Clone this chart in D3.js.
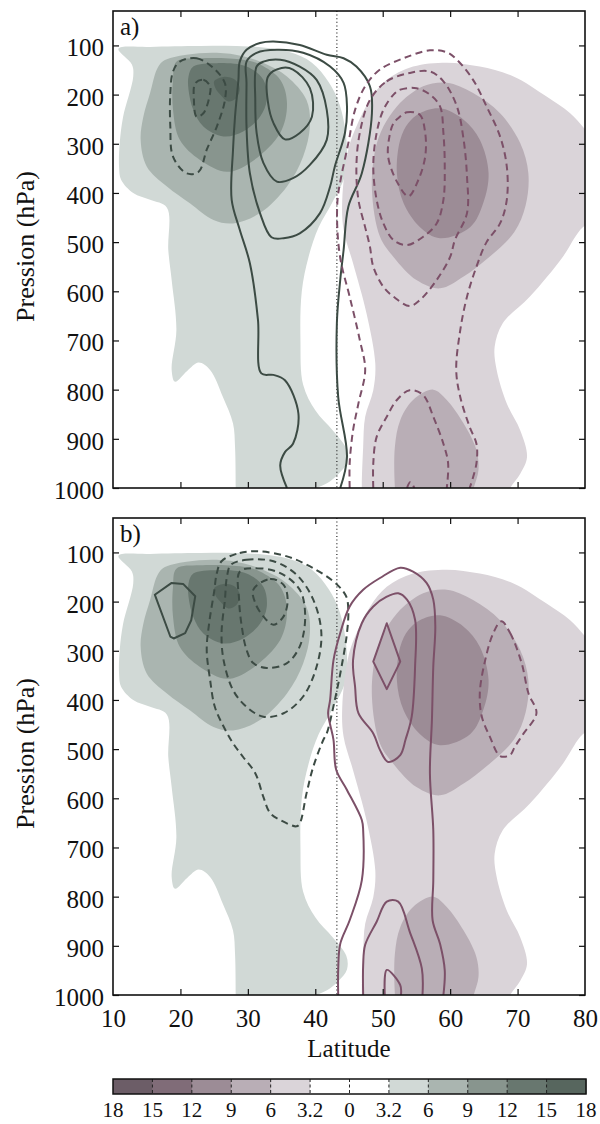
<!DOCTYPE html>
<html><head><meta charset="utf-8">
<script src="https://cdn.jsdelivr.net/npm/d3@7"></script>
<style>
body{margin:0;background:#fff}
svg{display:block}
text{font-family:"Liberation Serif","Times New Roman",serif;fill:#111}
</style>
</head><body>
<svg id="chart" width="600" height="1124"></svg>
<script>
// ---------------- DATA ----------------
const latTicks = [10, 20, 30, 40, 50, 60, 70, 80];
const presTicks = [100, 200, 300, 400, 500, 600, 700, 800, 900, 1000];
const cbLabels = ["18", "15", "12", "9", "6", "3.2", "0", "3.2", "6", "9", "12", "15", "18"];
const cbColors = ["#6c5d67", "#806c78", "#9c8c96", "#b9aeb6", "#dad4d9", "#ffffff",
                  "#ffffff", "#d1d9d6", "#aab5b0", "#88958e", "#68776f", "#57665e"];
const equatorLine = 43.2; // dotted reference latitude

// shading (same field in both panels) : [lat, pressure]
const fillG1 = [[10.8,107],[12.8,139],[13.0,163],[11.5,245],[11.0,298],[10.9,347],[11.2,373],[13,400],[15.5,414],[18,430],[18.2,516],[18.7,577],[19.4,679],[18.7,760],[19.2,784],[21,762],[22.7,745],[24.4,760],[26.3,815],[27.8,869],[28.1,917],[28.2,1000],[28.2,1030],[39.5,1030],[40.2,1002],[41.8,990],[43.4,972],[44.7,948],[44.6,920],[42.6,883],[40,842],[38.2,790],[37.8,700],[38.0,600],[39,530],[40.5,470],[42.5,420],[44.5,360],[44.6,290],[43.6,220],[42.0,175],[39.5,135],[36,113],[30,102],[23,101],[15.5,103]];
const fillG2 = [[16.5,149],[17.4,132],[20.9,119],[25.4,115],[29.3,122],[32.5,137],[35.8,163],[38.7,211],[39.2,265],[38.2,326],[35.8,387],[31.8,441],[27.8,462],[24.9,455],[21.4,421],[18,387],[15,346],[14.1,292],[14.5,245],[15.5,197]];
const fillG3 = [[19.4,133],[22.9,126],[29.3,129],[31.8,139],[34.8,170],[35.8,217],[34.8,278],[30.3,339],[26.9,357],[22.9,333],[19.9,292],[18.9,231],[18.9,170]];
const fillG4 = [[21.2,163],[21.9,143],[25.4,136],[29.8,143],[32.3,170],[32.8,211],[31.8,245],[29.3,275],[26.4,285],[23.4,265],[21.9,231],[21.2,190]];
const fillG5 = [[25.0,173],[26.4,164],[28.1,170],[28.8,187],[28.3,207],[27.1,214],[25.9,200],[25.2,187]];
const fillP1 = [[54.5,143],[59.5,135],[64.4,143],[69.4,163],[74.3,204],[77.8,238],[80.5,278],[82,300],[82,440],[79.3,475],[76.7,530],[71.8,611],[67.8,665],[66.6,713],[66.9,760],[68.4,828],[70.4,883],[71.4,937],[70.4,971],[68.9,1000],[68,1030],[47,1030],[46.9,998],[47.1,917],[47.4,855],[48.6,801],[48.9,747],[47.6,645],[45.6,543],[44.2,475],[44.0,414],[44.9,312],[46.1,265],[48.1,211],[50.6,170]];
const fillP2a = [[56,183],[59.5,176],[63.4,197],[67.4,238],[70.4,299],[71.6,360],[71.2,425],[69.5,480],[65.4,535],[62,570],[58.5,594],[55,577],[51.6,530],[49.6,489],[48.4,394],[48.9,312],[50.1,265],[52.1,224],[54,200]];
const fillP2b = [[57.5,800],[59.5,821],[62,869],[63.9,923],[64.2,964],[63.5,1000],[63,1030],[52,1030],[51.8,998],[51.8,917],[52.6,862],[54.5,821]];
const fillP3 = [[55.5,238],[58.5,228],[62,251],[64.4,292],[65.7,360],[64.9,421],[63,469],[58.5,492],[55.5,469],[53.1,421],[52.1,360],[52.6,292],[53.8,258]];

// panel a contour lines
const aGreenSolid1 = [[33,163],[35,146],[36.7,149],[39.2,187],[39.5,245],[37.7,278],[35.5,291],[33.8,258],[33,217]];
const aGreenSolid2 = [[31.3,143],[32.3,133],[34.8,129],[37.7,143],[40.2,170],[41.7,231],[41.7,292],[39.2,343],[36.7,370],[34.3,377],[32.3,339],[31.3,278],[31.1,211]];
const aGreenSolid3 = [[29.8,133],[31.3,115],[34.3,109],[38.2,115],[42.2,143],[44.2,176],[44.7,224],[44.4,278],[42.9,346],[42.2,387],[40.7,441],[37.7,482],[35.3,492],[33.5,490],[31.8,441],[30.3,360],[29.8,265],[29.8,176]];
const aGreenSolid4 = [[35.8,1000],[34.8,954],[35.5,927],[36.7,910],[37.5,849],[35.5,781],[33.8,770],[32,767],[31.5,658],[30.3,543],[28.8,475],[27.6,414],[27.8,312],[28.1,244],[28.6,170],[28.8,133],[29.8,109],[31.8,95],[33.8,92],[37.7,99],[41.7,119],[44.2,126],[46.1,143],[48.1,183],[48.4,238],[46.9,360],[44.9,428],[44.2,516],[43.7,577],[43.2,665],[43.4,815],[44.7,937],[43.7,1000]];
const aGreenDash1 = [[19.9,133],[22.4,126],[24.9,146],[26.6,177],[26.6,211],[25.4,265],[23.9,312],[22.7,357],[20.9,360],[18.9,326],[18.5,265],[18.5,197],[18.9,153]];
const aGreenDash2 = [[22.2,177],[23.4,170],[24.4,183],[24.3,204],[23.4,238],[22.4,245],[22,211]];
const aPurpleDash1 = [[45.1,1000],[45.1,950],[45.6,883],[46.4,828],[47.4,760],[46.6,699],[45.1,611],[43.8,540],[43.3,480],[43.3,414],[43.8,370],[44.9,299],[45.9,231],[47.4,183],[49.6,149],[53.1,126],[57,110],[59.5,114],[61,129],[63.4,170],[65.4,224],[67.4,285],[68.4,346],[68.4,414],[67.4,462],[65.4,500],[63.9,550],[62.5,611],[61.5,679],[60.9,760],[61.5,815],[62.9,876],[63.9,910],[63.9,950],[62.9,1000]];
const aPurpleDash2 = [[48.1,211],[50.6,173],[54,156],[57,153],[59,173],[61,224],[62,292],[62.5,367],[62.5,441],[60.7,496],[60,530],[58,577],[55.5,618],[54,630],[51.6,611],[50.1,591],[48.6,550],[48.1,509],[47.4,470],[46.4,414],[46.1,346],[46.6,278]];
const aPurpleDash3 = [[51.6,200],[52.6,190],[55,187],[57,200],[58.5,224],[59,278],[59.2,346],[59,414],[58,462],[56,489],[53.6,506],[51.6,496],[50.1,462],[49.1,414],[48.6,346],[49.1,278],[50.1,231]];
const aPurpleDash4 = [[52.3,248],[53.6,236],[55.5,241],[56.3,278],[56.3,326],[55.3,373],[53.8,407],[52.1,377],[50.8,326],[51.0,285],[51.6,258]];
const aPurpleDash5 = [[48.6,1000],[48.6,950],[49.1,896],[50.6,855],[52.1,821],[54,801],[56,811],[57.5,855],[59,910],[59.7,950],[59.5,1000]];
const aPurpleDash6 = [[53.6,1000],[54.1,988],[54.7,1000]];

// panel b contour lines
const bGreenSolid1 = [[16.2,186],[18.7,162],[20.4,164],[22.2,189],[21.6,238],[20.7,264],[19.0,275],[18.5,271]];
const bGreenDash1 = [[26.1,118],[28.8,101],[31.8,98],[35.8,108],[39.7,132],[43.2,165],[44.6,190],[44.9,217],[44.7,264],[43.9,332],[42.9,400],[41.7,468],[41.2,481],[39.7,536],[38.7,590],[37.7,651],[37.2,657],[34.8,644],[33.3,630],[32.3,597],[31.1,549],[29.3,516],[27.8,488],[26.4,454],[25.1,414],[24.4,359],[23.9,298],[24.3,240],[25.0,180],[25.4,142]];
const bGreenDash2 = [[27.5,125],[29.8,115],[33.8,118],[37.2,145],[39.7,196],[40.9,264],[40.2,332],[38.2,393],[35.3,427],[32.3,434],[29.8,414],[27.8,380],[26.4,319],[26.1,264],[26.6,196],[26.9,149]];
const bGreenDash3 = [[28.8,139],[31.3,132],[34.8,142],[37.7,176],[38.5,230],[37.7,291],[35.8,325],[32.8,335],[30.8,325],[29.8,298],[29.1,251],[28.7,196]];
const bGreenDash4 = [[30.8,176],[33.3,154],[35.3,166],[35.9,196],[35.3,230],[33.8,247],[32.3,230],[31.1,203]];
const bPurpleSolid1 = [[43.4,1000],[43.4,947],[43.7,896],[45.1,848],[46.9,767],[47.1,665],[46.9,644],[44.7,583],[43.1,542],[42.7,481],[42.2,450],[41.9,427],[42.2,400],[42.7,319],[43.7,264],[45.1,210],[47.1,176],[49.6,152],[52.6,131],[54.5,139],[56.5,162],[57.5,196],[57.8,251],[57.5,332],[57.3,440],[57,549],[57.5,665],[57.5,767],[57.4,848],[58.5,896],[59.2,950],[59,1000]];
const bPurpleSolid2 = [[45.6,319],[46.9,244],[48.6,210],[50.6,190],[52.3,183],[53.6,196],[54.8,237],[54.8,332],[54.3,434],[53.4,480],[52.6,512],[50.8,526],[49.6,502],[48.6,468],[46.4,427],[45.9,373]];
const bPurpleSolid3 = [[50.6,244],[52.6,322],[50.6,378],[48.6,322]];
const bPurpleSolid4 = [[47.1,1000],[47.1,939],[47.4,898],[49.1,851],[50.6,810],[52.3,810],[54,871],[55.8,946],[55.9,1000]];
const bPurpleSolid5 = [[50.3,1000],[50.6,949],[52.6,980],[52.7,1000]];
const bPurpleDash1 = [[67.6,240],[68.9,264],[70.6,325],[71.6,386],[72.8,427],[70.9,468],[69.6,495],[68.9,512],[67.4,514],[65.9,475],[64.7,434],[64.4,386],[65.2,319],[66.4,264]];

// ---------------- DRAWING ----------------
const svg = d3.select("#chart");
const X0 = 113, X1 = 585;
const FS = 25;
const FONT = '"Liberation Serif","Times New Roman",serif';
const GREEN = "#3c4b44", PURPLE = "#7c5068";
const xs = d3.scaleLinear().domain([10, 80]).range([X0, X1]);

const fills = [
  {d: fillG1, c: cbColors[7]}, {d: fillG2, c: cbColors[8]}, {d: fillG3, c: cbColors[9]},
  {d: fillG4, c: cbColors[10]}, {d: fillG5, c: cbColors[11]},
  {d: fillP1, c: cbColors[4]}, {d: fillP2a, c: cbColors[3]}, {d: fillP2b, c: cbColors[3]},
  {d: fillP3, c: cbColors[2]}
];

const panels = [
  {y0: 11, y1: 488, label: "a)", xlabels: false, lines: [
    {d: aGreenSolid1, c: GREEN}, {d: aGreenSolid2, c: GREEN}, {d: aGreenSolid3, c: GREEN}, {d: aGreenSolid4, c: GREEN},
    {d: aGreenDash1, c: GREEN, dash: true}, {d: aGreenDash2, c: GREEN, dash: true},
    {d: aPurpleDash1, c: PURPLE, dash: true}, {d: aPurpleDash2, c: PURPLE, dash: true},
    {d: aPurpleDash3, c: PURPLE, dash: true}, {d: aPurpleDash4, c: PURPLE, dash: true},
    {d: aPurpleDash5, c: PURPLE, dash: true}, {d: aPurpleDash6, c: PURPLE, dash: true}
  ]},
  {y0: 518, y1: 995, label: "b)", xlabels: true, lines: [
    {d: bGreenSolid1, c: GREEN, linear: true},
    {d: bGreenDash1, c: GREEN, dash: true}, {d: bGreenDash2, c: GREEN, dash: true},
    {d: bGreenDash3, c: GREEN, dash: true}, {d: bGreenDash4, c: GREEN, dash: true},
    {d: bPurpleSolid1, c: PURPLE}, {d: bPurpleSolid2, c: PURPLE}, {d: bPurpleSolid3, c: PURPLE, linear: true},
    {d: bPurpleSolid4, c: PURPLE}, {d: bPurpleSolid5, c: PURPLE},
    {d: bPurpleDash1, c: PURPLE, dash: true}
  ]}
];

const defs = svg.append("defs");

panels.forEach((P, i) => {
  const ys = d3.scaleLinear().domain([30, 1000]).range([P.y0, P.y1]);
  defs.append("clipPath").attr("id", "clip" + i)
    .append("rect").attr("x", X0).attr("y", P.y0).attr("width", X1 - X0).attr("height", P.y1 - P.y0);
  const g = svg.append("g");
  const plot = g.append("g").attr("clip-path", `url(#clip${i})`);

  const closedSmooth = d3.line().x(d => xs(d[0])).y(d => ys(d[1])).curve(d3.curveCatmullRomClosed.alpha(0.5));
  const openSmooth = d3.line().x(d => xs(d[0])).y(d => ys(d[1])).curve(d3.curveCatmullRom.alpha(0.5));
  const closedLinear = d3.line().x(d => xs(d[0])).y(d => ys(d[1])).curve(d3.curveLinearClosed);

  plot.selectAll("path.fill").data(fills).join("path")
    .attr("class", "fill").attr("d", f => closedSmooth(f.d)).attr("fill", f => f.c).attr("stroke", "none");

  plot.append("line")
    .attr("x1", xs(equatorLine)).attr("x2", xs(equatorLine))
    .attr("y1", P.y0).attr("y2", P.y1)
    .attr("stroke", "#222").attr("stroke-width", 1.2).attr("stroke-dasharray", "1,2.6");

  plot.selectAll("path.cl").data(P.lines).join("path")
    .attr("class", "cl")
    .attr("d", L => {
      const open = L.d[0][1] >= 1000 && L.d[L.d.length - 1][1] >= 1000;
      if (L.linear) return closedLinear(L.d);
      return open ? openSmooth(L.d) : closedSmooth(L.d);
    })
    .attr("fill", "none").attr("stroke", L => L.c).attr("stroke-width", 2)
    .attr("stroke-linejoin", "round")
    .attr("stroke-dasharray", L => L.dash ? "7,4.5" : null);

  // axes
  const inner = [20, 30, 40, 50, 60, 70];
  const left = g.append("g").attr("transform", `translate(${X0},0)`)
    .call(d3.axisLeft(ys).tickValues(presTicks).tickSize(-6).tickPadding(9).tickFormat(d3.format("d")));
  left.select(".domain").remove();
  left.selectAll("line").attr("stroke", "#111").attr("stroke-width", 1.2);
  left.selectAll("text").attr("font-size", FS).attr("dy", "0.42em")
    .style("font-family", FONT).attr("fill", "#111");

  const right = g.append("g").attr("transform", `translate(${X1},0)`)
    .call(d3.axisRight(ys).tickValues(presTicks).tickSize(-6).tickFormat(""));
  right.select(".domain").remove();
  right.selectAll("line").attr("stroke", "#111").attr("stroke-width", 1.2);

  const top = g.append("g").attr("transform", `translate(0,${P.y0})`)
    .call(d3.axisTop(xs).tickValues(inner).tickSize(-6).tickFormat(""));
  top.select(".domain").remove();
  top.selectAll("line").attr("stroke", "#111").attr("stroke-width", 1.2);

  const bottom = g.append("g").attr("transform", `translate(0,${P.y1})`)
    .call(d3.axisBottom(xs).tickValues(P.xlabels ? latTicks : inner).tickSize(-6).tickPadding(14)
      .tickFormat(P.xlabels ? d3.format("d") : ""));
  bottom.select(".domain").remove();
  bottom.selectAll("line").attr("stroke", "#111").attr("stroke-width", 1.2);
  bottom.selectAll("line").filter(d => d === 10 || d === 80).remove();
  bottom.selectAll("text").attr("font-size", FS).attr("y", 0).attr("dy", 32)
    .style("font-family", FONT).attr("fill", "#111");

  g.append("rect").attr("x", X0).attr("y", P.y0).attr("width", X1 - X0).attr("height", P.y1 - P.y0)
    .attr("fill", "none").attr("stroke", "#111").attr("stroke-width", 1.6);

  g.append("text").attr("x", X0 + 7).attr("y", P.y0 + 24).attr("font-size", FS).text(P.label);

  g.append("text").attr("transform", `translate(34,${(P.y0 + P.y1) / 2 - 3}) rotate(-90)`)
    .attr("text-anchor", "middle").attr("font-size", 26).text("Pression (hPa)");
});

svg.append("text").attr("x", (X0 + X1) / 2).attr("y", 1057).attr("text-anchor", "middle")
  .attr("font-size", FS).text("Latitude");

// colorbar
const cbX0 = 113, cbX1 = 586, cbY = 1079, cbH = 15;
const cbScale = d3.scaleLinear().domain([0, cbColors.length]).range([cbX0, cbX1]);
const cb = svg.append("g");
cb.selectAll("rect.cell").data(cbColors).join("rect").attr("class", "cell")
  .attr("x", (d, i) => cbScale(i)).attr("y", cbY)
  .attr("width", cbScale(1) - cbScale(0) + 0.5).attr("height", cbH).attr("fill", d => d);
cb.selectAll("line.div").data(d3.range(1, cbColors.length)).join("line").attr("class", "div")
  .attr("x1", i => cbScale(i)).attr("x2", i => cbScale(i))
  .attr("y1", cbY).attr("y2", cbY + cbH)
  .attr("stroke", "#222").attr("stroke-width", 1).attr("stroke-dasharray", "3,2.5");
cb.append("rect").attr("x", cbX0).attr("y", cbY).attr("width", cbX1 - cbX0).attr("height", cbH)
  .attr("fill", "none").attr("stroke", "#111").attr("stroke-width", 1.5);
cb.selectAll("text.cbl").data(cbLabels).join("text").attr("class", "cbl")
  .attr("x", (d, i) => cbScale(i)).attr("y", 1117).attr("text-anchor", "middle")
  .attr("font-size", 21).text(d => d);
</script>
</body></html>
